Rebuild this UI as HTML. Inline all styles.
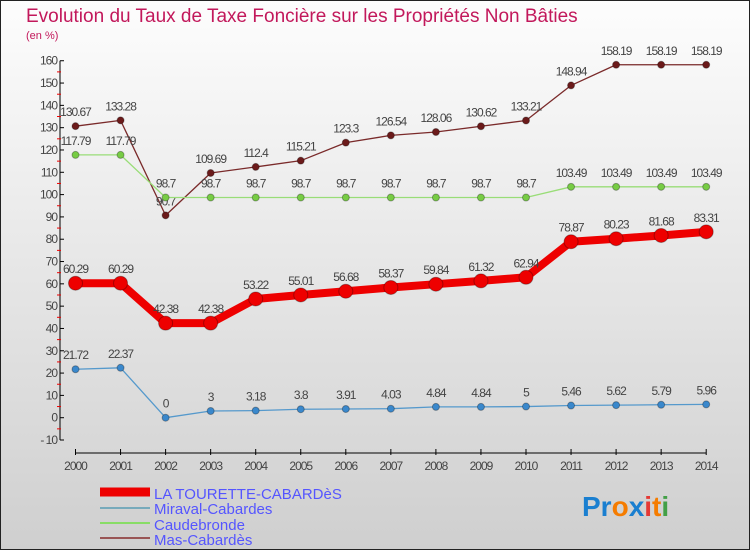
<!DOCTYPE html>
<html><head><meta charset="utf-8"><style>
body{margin:0;width:750px;height:550px;overflow:hidden;font-family:"Liberation Sans",sans-serif}
</style></head><body>
<svg id="c" width="750" height="550" xmlns="http://www.w3.org/2000/svg">
<defs><linearGradient id="bg" x1="0" y1="0" x2="0" y2="1"><stop offset="0" stop-color="#fdfdfd"/><stop offset="1" stop-color="#cfcfcf"/></linearGradient></defs>
<rect x="0.5" y="0.5" width="749" height="549" fill="url(#bg)" stroke="#222"/>
<text x="26" y="22" font-size="19" fill="#c2185b">Evolution du Taux de Taxe Foncière sur les Propriétés Non Bâties</text>
<text x="26" y="39" font-size="11" fill="#c2185b">(en %)</text>
<g id="axes"></g><g id="series"></g>
<g>
<line x1="100" y1="492" x2="150" y2="492" stroke="#e00" stroke-width="9"/>
<text x="154" y="499" font-size="15" fill="#55f">LA TOURETTE-CABARDèS</text>
<line x1="100" y1="508" x2="150" y2="508" stroke="#7ab" stroke-width="2"/>
<text x="154" y="514" font-size="15" fill="#55f">Miraval-Cabardes</text>
<line x1="100" y1="523" x2="150" y2="523" stroke="#8d6" stroke-width="2"/>
<text x="154" y="530" font-size="15" fill="#55f">Caudebronde</text>
<line x1="100" y1="538" x2="150" y2="538" stroke="#955" stroke-width="2"/>
<text x="154" y="545" font-size="15" fill="#55f">Mas-Cabardès</text>
</g>
<text x="582" y="516" font-size="28" font-weight="bold"><tspan fill="#1a7fd0">Pr</tspan><tspan fill="#f57c00">o</tspan><tspan fill="#1a7fd0">x</tspan><tspan fill="#e53935">i</tspan><tspan fill="#f57c00">t</tspan><tspan fill="#43a047">i</tspan></text>
</svg>
<script>
const years=[2000,2001,2002,2003,2004,2005,2006,2007,2008,2009,2010,2011,2012,2013,2014];
const laTourette=[60.29,60.29,42.38,42.38,53.22,55.01,56.68,58.37,59.84,61.32,62.94,78.87,80.23,81.68,83.31];
const miraval=[21.72,22.37,0,3,3.18,3.8,3.91,4.03,4.84,4.84,5,5.46,5.62,5.79,5.96];
const caudebronde=[117.79,117.79,98.7,98.7,98.7,98.7,98.7,98.7,98.7,98.7,98.7,103.49,103.49,103.49,103.49];
const mas=[130.67,133.28,90.7,109.69,112.4,115.21,123.3,126.54,128.06,130.62,133.21,148.94,158.19,158.19,158.19];
const yTicks=[-10,0,10,20,30,40,50,60,70,80,90,100,110,120,130,140,150,160];
const NS="http://www.w3.org/2000/svg";
const X=i=>75.5+i*45.05, Y=v=>417.7-v*2.231;
function mk(p,t,a){const e=document.createElementNS(NS,t);for(const k in a)e.setAttribute(k,a[k]);p.appendChild(e);return e;}
const ax=document.getElementById('axes'), sg=document.getElementById('series');
let l=mk(ax,'line',{x1:60,y1:Y(160),x2:60,y2:Y(-10),stroke:'#000'});


yTicks.forEach(v=>{
 mk(ax,'line',{x1:60,y1:Y(v),x2:64,y2:Y(v),stroke:'#000'});
 if(v<160)mk(ax,'line',{x1:57,y1:Y(v+5),x2:61,y2:Y(v+5),stroke:'#e00'});
 const t=mk(ax,'text',{x:57,y:Y(v)+4,'font-size':12,fill:'#444','text-anchor':'end','letter-spacing':'-1'});
 t.textContent=v<0?'- '+(-v):v;
 
 
});
l=mk(ax,'line',{x1:X(0),y1:453,x2:X(14),y2:453,stroke:'#000'});


years.forEach((y,i)=>{
 mk(ax,'line',{x1:X(i),y1:449,x2:X(i),y2:455,stroke:'#000'});
 const t=mk(ax,'text',{x:X(i),y:470,'font-size':12,fill:'#444','text-anchor':'middle','letter-spacing':'-1'});
 t.textContent=y;
 
 
});
function series(d,name,col,w,r,dot){
 const g=mk(sg,'g',{});
 
 
 mk(g,'polyline',{points:d.map((v,i)=>X(i)+','+Y(v)).join(' '),fill:'none',stroke:col,'stroke-width':w,'stroke-linejoin':'round'});
 d.forEach((v,i)=>{
  const c=mk(g,'circle',{cx:X(i),cy:Y(v),r:r,fill:dot,stroke:'rgba(0,0,0,0.3)'});
  
  
  const t=mk(g,'text',{x:X(i),y:Y(v)-10,'font-size':12,fill:'#444','text-anchor':'middle','letter-spacing':'-1'});
  t.textContent=String(v);
  
  
 });
}
series(mas,'mas-cabardes','#7a2a2a',1.3,3.5,'#6b1a1a');
series(caudebronde,'caudebronde','#99dd77',1.3,3.5,'#77cc44');
series(laTourette,'la-tourette','#e00',8,7,'#e00');
series(miraval,'miraval','#5599cc',1.3,3.5,'#3a88cc');
</script>
</body></html>
